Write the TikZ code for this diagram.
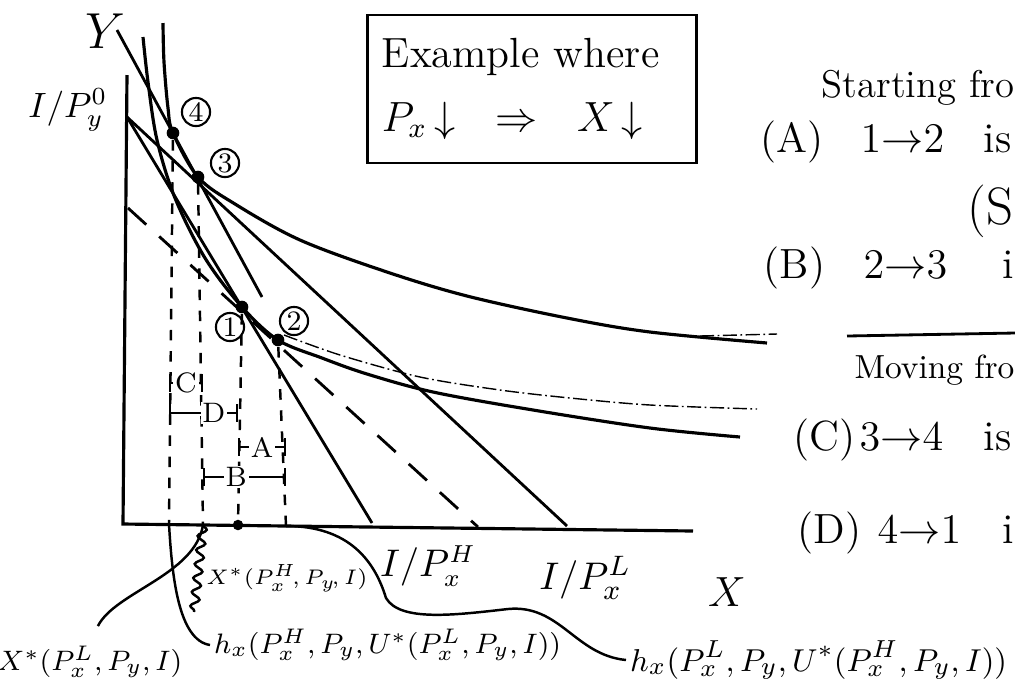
\documentclass[tikz,border=0pt]{standalone}
\usepackage{amsmath,amssymb}
\usepackage{tikz}
\usetikzlibrary{arrows.meta,positioning,calc,decorations.pathmorphing}
\tikzset{ic/.style={line width=0.9pt},bud/.style={line width=0.8pt},comp/.style={line width=0.8pt,dash pattern=on 7pt off 5pt},drop/.style={line width=0.7pt,dash pattern=on 3pt off 3pt},dot/.style={circle,fill=black,inner sep=0pt,minimum size=3.6pt},num/.style={circle,draw,line width=0.6pt,inner sep=0pt,minimum size=8pt,font=\footnotesize},gap/.style={{Bar[width=5pt]}-{Bar[width=5pt]},line width=0.7pt},gaplab/.style={fill=white,inner sep=0.5pt,font=\footnotesize},lead/.style={line width=0.7pt},lab/.style={inner sep=1pt,font=\fontsize{8}{10}\selectfont},rt/.style={inner sep=0pt,anchor=base west,font=\fontsize{12}{14}\selectfont}}

\begin{document}
\begin{tikzpicture}[x=0.01cm,y=-0.01cm]
\useasboundingbox (0,0) rectangle (1015,693);
\coordinate (O) at (123,524);
\coordinate (ytop) at (127,75);
\coordinate (xend) at (693,531);
\draw[line width=0.9pt] (ytop) -- (O) -- (xend);
\node[font=\fontsize{15}{17}\selectfont] (ylab) at (105,31) {$Y$};
\node[font=\fontsize{10}{12}\selectfont] (iy) at (68,110) {$I/P_y^0$};
\node[font=\fontsize{13}{15}\selectfont] (xlab) at (727,592) {$X$};
\node[font=\fontsize{10.5}{12}\selectfont] (ixh) at (428,566) {$I/P_x^H$};
\node[font=\fontsize{11}{13}\selectfont] (ixl) at (585,578) {$I/P_x^L$};
\coordinate (Iy) at (127,117);
\coordinate (IxH) at (372,523);
\coordinate (IxL) at (567,526);
\coordinate (cy) at (128,208);
\coordinate (cx) at (478,527);
\coordinate (sy) at (117,30);
\coordinate (sx) at (262,297);
\draw[bud] (Iy) -- (IxH);
\draw[bud] (Iy) -- (IxL);
\draw[comp] (cy) -- (cx);
\draw[bud] (sy) -- (sx);
\draw[ic] plot[smooth,tension=0.55] coordinates {(163,23) (164,62) (168,108) (173,133) (198,177) (235,204) (300,240) (387,272) (467,296) (567,318) (650,332) (767,343)};
\draw[ic] plot[smooth,tension=0.55] coordinates {(143,37) (148,82) (157,140) (175,198) (205,258) (242,307) (278,340) (322,358) (367,374) (433,392) (533,410) (650,428) (740,437)};
\draw[line width=0.4pt,dash pattern=on 4pt off 1pt on 0.5pt off 1pt] plot[smooth] coordinates {(284,335) (340,355) (420,377) (500,390) (570,398) (650,405) (757,409)};
\draw[line width=0.4pt,dash pattern=on 4pt off 1pt on 0.5pt off 1pt] (700,336) -- (777,334);
\node[dot] (p1) at (242,307) {};
\node[dot] (p2) at (278,340) {};
\node[dot] (p3) at (198,177) {};
\node[dot] (p4) at (173,133) {};
\node[num] (n1) at (230,327) {1};
\node[num] (n2) at (294,321) {2};
\node[num] (n3) at (225,163) {3};
\node[num] (n4) at (196,112) {4};
\coordinate (f4) at (169,524);
\coordinate (f3) at (203,525);
\coordinate (f1) at (238,525);
\coordinate (f2) at (286,526);
\draw[drop] (p4) -- (f4);
\draw[drop] (p3) -- (f3);
\draw[drop] (p1) -- (f1);
\draw[drop] (p2) -- (f2);
\node[dot,minimum size=3pt] (q1) at (f1) {};
\draw[gap] (f4 |- 0,383) -- node[gaplab]{C} (f3 |- 0,383);
\draw[gap] (f4 |- 0,413) -- node[gaplab,pos=0.65]{D} (f1 |- 0,413);
\draw[gap] (f1 |- 0,447) -- node[gaplab]{A} (f2 |- 0,447);
\draw[gap] (f3 |- 0,477) -- node[gaplab,pos=0.4]{B} (f2 |- 0,477);
\node[draw,line width=0.8pt,align=left,text width=3.0cm,minimum width=3.29cm,minimum height=1.48cm,font=\fontsize{12}{18}\selectfont] (ex) at (532,89) {Example where\\$P_x\,{\downarrow}\ \ \Rightarrow\ \ X\,{\downarrow}$};
\node[rt,anchor=base east,font=\fontsize{11}{13}\selectfont] (st) at (1015,97) {Starting fro};
\node[rt] (ra) at (760,152) {(A)};
\node[rt] (ra2) at (860,152) {$1{\to}2$};
\node[rt] (ra3) at (983,152) {is};
\node[rt,anchor=base east,font=\fontsize{15}{17}\selectfont] (rs) at (1014,224) {(S};
\node[rt] (rb) at (763,278) {(B)};
\node[rt] (rb2) at (863,278) {$2{\to}3$};
\node[rt] (rb3) at (1002,278) {i};
\draw[line width=0.8pt] (847,336) -- (1015,333);
\node[rt,anchor=base east,font=\fontsize{9.5}{11}\selectfont] (mv) at (1015,378) {Moving fro};
\node[rt] (rc) at (793,450) {(C)};
\node[rt] (rc2) at (859,450) {$3{\to}4$};
\node[rt] (rc3) at (983,450) {is};
\node[rt] (rd) at (797,543) {(D)};
\node[rt] (rd2) at (877,543) {$4{\to}1$};
\node[rt] (rd3) at (1002,543) {i};
\node[lab,font=\fontsize{6.5}{8}\selectfont] (xh) at (287,578) {$X^*(P_x^H\!,P_y\!,I)$};
\node[lab] (xl) at (90,662) {$X^*(P_x^L,P_y,I)$};
\node[lab,anchor=west] (hh) at (210,645) {$h_x(P_x^H,P_y,U^*(P_x^L,P_y,I))$};
\node[lab,anchor=west,font=\fontsize{9.5}{11}\selectfont] (hl) at (626,660) {$h_x(P_x^L,P_y,U^*(P_x^H,P_y,I))$};
\coordinate (w1) at (194,612);
\draw[lead,shorten <=5pt] (xl.north) .. controls (115,592) and (195,575) .. (f3);
\draw[lead] (f4) .. controls (172,575) and (178,640) .. (hh.west);
\draw[lead,decorate,decoration={snake,amplitude=1.2pt,segment length=4pt}] (f3) -- (w1);
\draw[lead] (f2) .. controls (350,526) and (375,562) .. (386,598) .. controls (400,622) and (455,615) .. (508,609) .. controls (560,604) and (575,655) .. (hl.west);
\end{tikzpicture}
\end{document}
